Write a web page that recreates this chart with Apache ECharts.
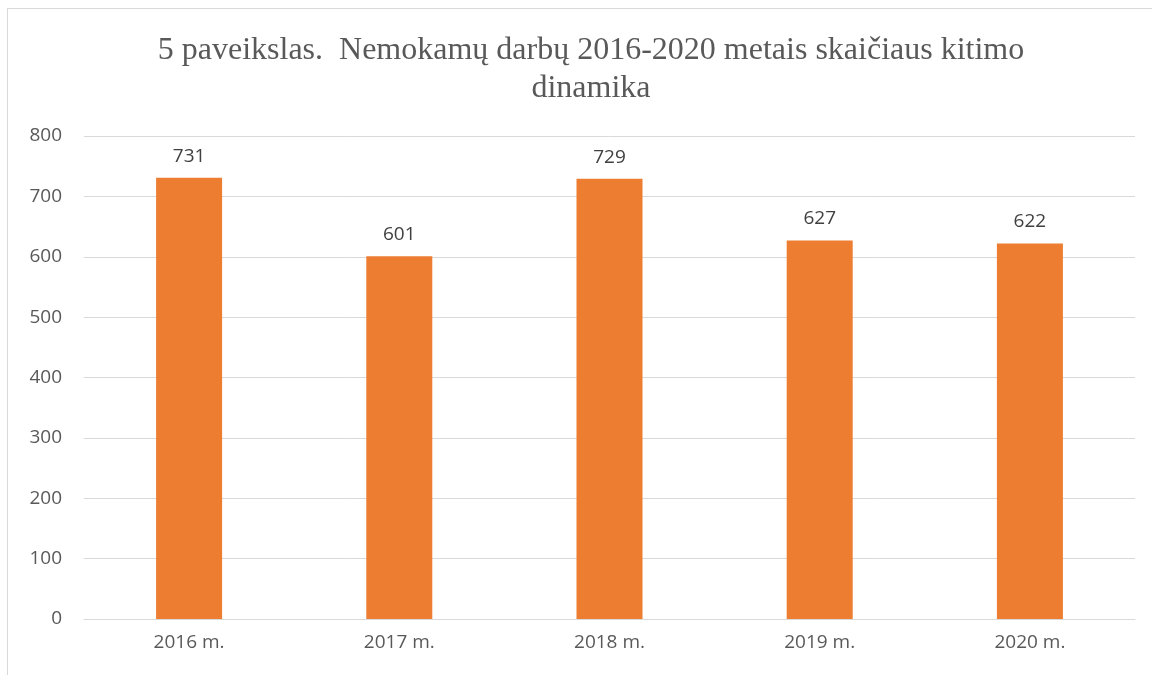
<!DOCTYPE html>
<html>
<head>
<meta charset="utf-8">
<script src="https://cdn.jsdelivr.net/npm/echarts@6/dist/echarts.min.js"></script>
<style>
html,body{margin:0;padding:0;background:#fff;}
#frame{position:absolute;left:7px;top:8px;width:1160px;height:680px;border:1px solid #d9d9d9;box-sizing:border-box;}
#main{position:absolute;left:0;top:0;width:1152px;height:675px;}
</style>
</head>
<body>
<div id="frame"></div>
<div id="main"></div>
<script>
var titleText='5 paveikslas.  Nemokamų darbų 2016-2020 metais skaičiaus kitimo\ndinamika';
var years=['2016 m.','2017 m.','2018 m.','2019 m.','2020 m.'];
var counts=[731,601,729,627,622];

var myChart=echarts.init(document.getElementById('main'));
myChart.setOption({
	animation:false,
	title:{
		text:titleText,
		left:586,
		top:27,
		textAlign:'center',
		textStyle:{
			fontFamily:'Liberation Serif',
			fontWeight:'normal',
			fontSize:32,
			lineHeight:38,
			color:'#595959'
		}
	},
	grid:{
		left:84,
		right:17,
		top:136,
		bottom:56,
		containLabel:false
	},
	xAxis:{
		type:'category',
		data:years,
		axisLine:{lineStyle:{color:'#d9d9d9',width:1}},
		axisTick:{show:false},
		axisLabel:{
			color:'#595959',
			fontSize:19,
			fontFamily:'Open Sans',
			margin:14
		}
	},
	yAxis:{
		type:'value',
		min:0,
		max:800,
		interval:100,
		axisLine:{show:false},
		axisTick:{show:false},
		splitLine:{lineStyle:{color:'#d9d9d9',width:1}},
		axisLabel:{
			color:'#595959',
			fontSize:19,
			fontFamily:'Open Sans',
			margin:22
		}
	},
	series:[{
		type:'bar',
		data:counts,
		barWidth:66,
		itemStyle:{color:'#ed7d31'},
		label:{
			show:true,
			position:'top',
			distance:12,
			color:'#404040',
			fontSize:19,
			fontFamily:'Open Sans'
		}
	}]
});
</script>
</body>
</html>
